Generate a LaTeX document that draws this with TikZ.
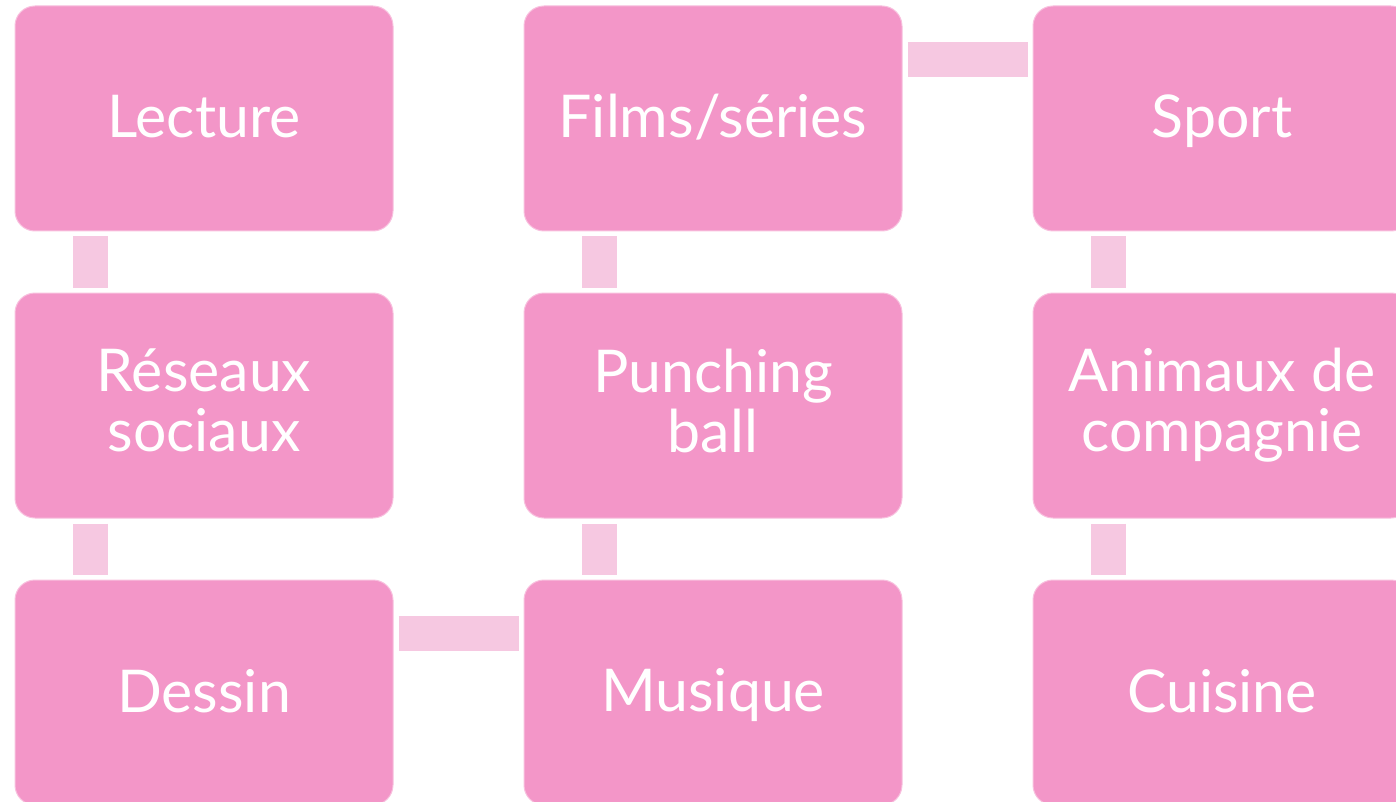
\documentclass[tikz,border=0pt]{standalone}
\usepackage{fontspec}
\setmainfont{Lato}
\definecolor{boxpink}{HTML}{F396C8}
\definecolor{linkpink}{HTML}{F6C8E1}
\newcommand{\boxstrut}{\rule[-10pt]{0pt}{59pt}}
\begin{document}
\begin{tikzpicture}
        [x=1pt, y=-1pt,
        box/.style={rectangle, rounded corners=20pt, fill=boxpink, draw=white!40!boxpink, line width=1pt,
                    minimum width=378pt, minimum height=225pt, text=white, align=center,
                    font=\fontsize{59}{60}\selectfont,
                    execute at begin node=\boxstrut, execute at end node=\boxstrut},
        link/.style={linkpink, line width=35pt, line cap=butt, shorten <=5pt, shorten >=5pt}]

        \useasboundingbox (0,0) rectangle (1396,802);
        \clip (0,0) rectangle (1396,802);

        % Boxes in three columns
        \node[box] (lect) at (204,118.5) {Lecture};
        \node[box] (res) at (204,405.5) {Réseaux\\sociaux};
        \node[box] (dessin) at (204,692.5) {Dessin};
        \node[box] (musique) at (713,692.5) {Musique};
        \node[box] (punch) at (713,405.5) {Punching\\ball};
        \node[box] (film) at (713,118.5) {Films/séries};
        \node[box] (sport) at (1222,118.5) {Sport};
        \node[box] (anim) at (1222,405.5) {Animaux de\\compagnie};
        \node[box] (cuisine) at (1222,692.5) {Cuisine};

        % vertical links
        \draw[link] ([xshift=75.5pt]lect.south west) -- ([xshift=75.5pt]res.north west);
        \draw[link] ([xshift=75.5pt]res.south west) -- ([xshift=75.5pt]dessin.north west);
        \draw[link] ([xshift=75.5pt]musique.north west) -- ([xshift=75.5pt]punch.south west);
        \draw[link] ([xshift=75.5pt]punch.north west) -- ([xshift=75.5pt]film.south west);
        \draw[link] ([xshift=75.5pt]sport.south west) -- ([xshift=75.5pt]anim.north west);
        \draw[link] ([xshift=75.5pt]anim.south west) -- ([xshift=75.5pt]cuisine.north west);

        % horizontal links
        \draw[link] ([yshift=-54pt]dessin.north east) -- ([yshift=-54pt]musique.north west);
        \draw[link] ([yshift=-54pt]film.north east) -- ([yshift=-54pt]sport.north west);

\end{tikzpicture}
\end{document}
